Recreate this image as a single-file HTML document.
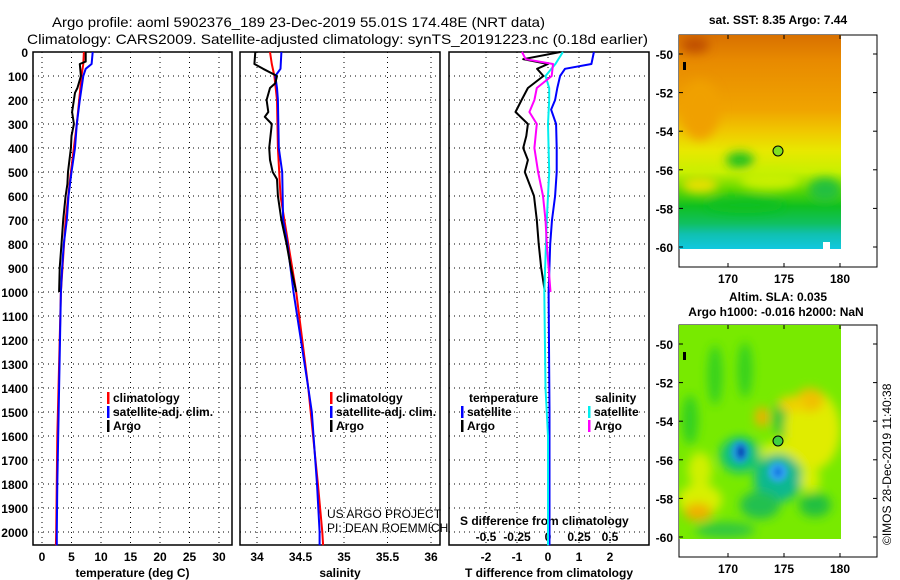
<!DOCTYPE html>
<html><head><meta charset="utf-8"><style>
html,body{margin:0;padding:0;background:#fff;}
svg{display:block;font-family:"Liberation Sans",sans-serif;}
.tk{font-size:12px;font-weight:bold;}
</style></head><body>
<svg id="chart" width="900" height="580" viewBox="0 0 900 580" xmlns="http://www.w3.org/2000/svg">
<defs>
<filter id="blur1" x="-20%" y="-20%" width="140%" height="140%"><feGaussianBlur stdDeviation="5"/></filter>
<filter id="blur2" x="-50%" y="-50%" width="200%" height="200%"><feGaussianBlur stdDeviation="3"/></filter>
<linearGradient id="sstg" x1="0" y1="0" x2="0" y2="1">
<stop offset="0" stop-color="#d87000"/><stop offset="0.12" stop-color="#e88a00"/>
<stop offset="0.35" stop-color="#f0a400"/><stop offset="0.45" stop-color="#f0c800"/>
<stop offset="0.54" stop-color="#e8e800"/><stop offset="0.64" stop-color="#c8f000"/>
<stop offset="0.72" stop-color="#60d800"/><stop offset="0.8" stop-color="#10c020"/>
<stop offset="0.88" stop-color="#10c060"/><stop offset="0.93" stop-color="#10c0b0"/>
<stop offset="1" stop-color="#10c8e0"/></linearGradient>
<clipPath id="c1"><rect x="679" y="35" width="162" height="214"/></clipPath>
<clipPath id="c2"><rect x="679" y="325" width="162" height="214"/></clipPath>
</defs>
<g id="titles">
<text x="52" y="27" font-size="14" textLength="493" lengthAdjust="spacingAndGlyphs">Argo profile: aoml 5902376_189 23-Dec-2019 55.01S 174.48E (NRT data)</text>
<text x="27" y="44" font-size="14" textLength="621" lengthAdjust="spacingAndGlyphs">Climatology: CARS2009. Satellite-adjusted climatology: synTS_20191223.nc (0.18d earlier)</text>
</g>
<g id="panels"></g>
<g id="maps">
<text x="778" y="24" class="tk" text-anchor="middle">sat. SST: 8.35 Argo: 7.44</text>
<rect x="679" y="35" width="198" height="232" fill="#fff" stroke="#000"/>
<g clip-path="url(#c1)">
<rect x="679" y="35" width="162" height="214" fill="url(#sstg)"/>
<g filter="url(#blur1)">
<ellipse cx="740" cy="160" rx="14" ry="8" fill="#20c020"/>
<ellipse cx="700" cy="185" rx="18" ry="8" fill="#e8e000"/>
<ellipse cx="770" cy="180" rx="30" ry="10" fill="#c8f000"/>
<ellipse cx="825" cy="190" rx="16" ry="12" fill="#20c040"/>
<ellipse cx="695" cy="45" rx="14" ry="8" fill="#c05000"/>
<ellipse cx="745" cy="205" rx="40" ry="8" fill="#10c020"/>
<ellipse cx="700" cy="110" rx="20" ry="30" fill="#f0a000"/>
</g>
<rect x="683" y="62" width="3" height="8" fill="#000"/>
<rect x="823" y="242" width="7" height="7" fill="#fff"/>
</g>
<circle cx="778" cy="151" r="5" fill="#80e020" stroke="#000"/>
<text x="778" y="301" class="tk" text-anchor="middle">Altim. SLA: 0.035</text>
<text x="776" y="316" class="tk" text-anchor="middle">Argo h1000: -0.016 h2000: NaN</text>
<rect x="679" y="325" width="198" height="232" fill="#fff" stroke="#000"/>
<g clip-path="url(#c2)">
<rect x="679" y="325" width="162" height="214" fill="#78ea00"/>
<g filter="url(#blur1)">
<ellipse cx="715" cy="375" rx="7" ry="30" fill="#30d020"/>
<ellipse cx="745" cy="370" rx="7" ry="28" fill="#30d020"/>
<ellipse cx="690" cy="420" rx="8" ry="25" fill="#30d020"/>
<ellipse cx="785" cy="418" rx="12" ry="20" fill="#20c040"/>
<ellipse cx="790" cy="452" rx="30" ry="12" fill="#d8f000"/>
<ellipse cx="812" cy="430" rx="28" ry="40" fill="#e0ec00"/>
<ellipse cx="810" cy="400" rx="14" ry="12" fill="#f0c000"/>
<ellipse cx="762" cy="417" rx="7" ry="10" fill="#f0b000"/>
<ellipse cx="792" cy="404" rx="14" ry="8" fill="#f0d000"/>
<ellipse cx="700" cy="470" rx="12" ry="18" fill="#d0f000"/>
<ellipse cx="700" cy="500" rx="22" ry="16" fill="#d8f000"/>
<ellipse cx="698" cy="512" rx="14" ry="9" fill="#f0b000"/>
<ellipse cx="740" cy="455" rx="20" ry="18" fill="#10c080"/>
<ellipse cx="778" cy="478" rx="24" ry="24" fill="#10b890"/>
<ellipse cx="760" cy="505" rx="20" ry="14" fill="#20c050"/>
<ellipse cx="815" cy="505" rx="16" ry="12" fill="#20c040"/>
<ellipse cx="725" cy="530" rx="30" ry="8" fill="#30c840"/>
<ellipse cx="810" cy="480" rx="10" ry="12" fill="#d8f000"/>
</g>
<g filter="url(#blur2)">
<ellipse cx="740" cy="452" rx="9" ry="11" fill="#20a0e0"/>
<ellipse cx="741" cy="452" rx="4" ry="7" fill="#0030b0"/>
<ellipse cx="778" cy="472" rx="10" ry="10" fill="#30a8f0"/>
<ellipse cx="778" cy="472" rx="4" ry="5" fill="#1070e0"/>
</g>
<rect x="683" y="352" width="3" height="8" fill="#000"/>
</g>
<circle cx="778" cy="441" r="5" fill="#40d040" stroke="#000"/>
<text transform="translate(891,545) rotate(-90)" font-size="12">©IMOS 28-Dec-2019 11:40:38</text>
</g>
</svg>
<script>
// ---- data ----
const depthTicks = [0,100,200,300,400,500,600,700,800,900,1000,1100,1200,1300,1400,1500,1600,1700,1800,1900,2000];
const tempTicks = [0,5,10,15,20,25,30];
const salTicks = [34,34.5,35,35.5,36];
const tdiffTicks = [-2,-1,0,1,2];
const sdiffTicks = [-0.5,-0.25,0,0.25,0.5];
const latTicks = [-50,-52,-54,-56,-58,-60];
const lonTicks = [170,175,180];

const argoDepth = [0,40,50,100,150,170,200,250,300,350,400,500,550,600,700,800,900,1000];
const argoTemp  = [7.4,7.4,6.4,6.6,6.0,5.6,5.4,5.1,5.4,5.0,4.9,4.4,4.3,4.0,3.6,3.3,3.0,2.9];
const climDepth = [0,50,100,200,300,500,700,1000,1400,1600,2000,2055];
const climTemp  = [7.1,7.0,6.7,6.3,5.9,4.9,4.0,3.2,2.8,2.6,2.4,2.35];
const satDepth  = [0,50,70,100,200,300,400,500,600,700,800,900,1000,1400,1800,2000,2055];
const satTemp   = [8.6,8.4,7.4,7.0,6.4,5.9,5.6,5.0,4.5,4.2,3.7,3.4,3.2,2.9,2.6,2.5,2.5];

const argoSalDepth = [0,50,70,100,130,150,200,250,270,300,400,450,500,530,600,700,800,900,1000];
const argoSal = [33.98,33.97,34.07,34.23,34.21,34.15,34.11,34.13,34.09,34.17,34.14,34.15,34.18,34.23,34.24,34.28,34.34,34.39,34.45];
const climSalDepth = [0,50,100,200,400,600,800,1000,1400,1800,2000,2055];
const climSal = [34.15,34.17,34.20,34.23,34.24,34.27,34.36,34.45,34.59,34.70,34.75,34.76];
const satSalDepth = [0,70,100,150,200,400,500,700,800,1000,1400,1500,1800,2000,2055];
const satSal = [34.28,34.27,34.21,34.23,34.24,34.25,34.29,34.30,34.35,34.42,34.59,34.63,34.69,34.72,34.72];

const tSatDiffDepth = [0,50,70,100,150,200,240,300,400,500,600,700,800,1000,1500,2000,2055];
const tSatDiff = [1.48,1.4,0.55,0.39,0.3,0.23,0.1,0.26,0.28,0.28,0.23,0.13,0.07,0.02,0.05,0.05,0.05];
const tArgoDiffDepth = [0,30,50,70,100,150,200,250,300,350,400,450,500,550,600,700,800,900,1000];
const tArgoDiff = [0.4,-0.8,0.0,-0.35,-0.15,-0.65,-0.85,-1.05,-0.65,-0.7,-0.8,-0.65,-0.75,-0.6,-0.45,-0.36,-0.3,-0.22,-0.1];
const sSatDiffDepth = [0,50,100,150,200,300,500,700,1000,1400,1600,2000,2055];
const sSatDiff = [0.12,0.06,-0.02,0.01,0.01,0.0,0.01,-0.01,-0.03,-0.02,0.0,0.0,0.0];
const sArgoDiffDepth = [0,30,50,100,150,200,250,300,400,500,600,700,800,1000];
const sArgoDiff = [-0.21,-0.18,0.04,0.03,-0.09,-0.11,-0.15,-0.09,-0.11,-0.08,-0.04,-0.02,-0.01,0.02];

// ---- layout / scales ----
const NS = 'http://www.w3.org/2000/svg';
const TOP = 52, BOT = 545;
const yD = d => TOP + d * 0.24;
const xT = t => 42 + t * 5.9;
const xS = s => 257 + (s - 34) * 87;
const xTd = t => 548 + t * 31;
const xSd = s => 548 + s * 124;
const yLat = l => 54 + (-50 - l) * 19.3;
const xLon = l => 728 + (l - 170) * 11.2;

const root = document.getElementById('panels');
function mk(tag, attrs, parent) {
  const e = document.createElementNS(NS, tag);
  for (const k in attrs) e.setAttribute(k, attrs[k]);
  (parent || root).appendChild(e);
  return e;
}
function txt(x, y, s, cls, anchor, parent) {
  const e = mk('text', {x: x, y: y, 'text-anchor': anchor || 'middle'}, parent);
  if (cls) e.setAttribute('class', cls);
  e.textContent = s;
  return e;
}
function line(xs, ds, sx, color, name, w) {
  const pts = xs.map((v, i) => sx(v).toFixed(1) + ',' + yD(ds[i]).toFixed(1)).join(' ');
  const p = mk('polyline', {points: pts, fill: 'none', stroke: color, 'stroke-width': w || 2, 'stroke-linejoin': 'round'});
  
  
}

const panels = [
  {x0: 33, x1: 232, ticks: tempTicks, sx: xT, title: 'temperature (deg C)', name: 'temperature-panel'},
  {x0: 240, x1: 440, ticks: salTicks, sx: xS, title: 'salinity', name: 'salinity-panel'},
  {x0: 449, x1: 649, ticks: tdiffTicks, sx: xTd, title: 'T difference from climatology', name: 'difference-panel'}
];
panels.forEach((p, pi) => {
  const g = mk('g', {});
  
  
  mk('rect', {x: p.x0, y: TOP, width: p.x1 - p.x0, height: BOT - TOP, fill: 'none', stroke: '#000', 'stroke-width': 1.5}, g);
  depthTicks.forEach(d => {
    const l = mk('line', {x1: p.x0, x2: p.x1, y1: yD(d), y2: yD(d), stroke: '#000', 'stroke-dasharray': '1,4'}, g);
    
    
  });
  p.ticks.forEach(t => {
    const x = p.sx(t);
    const l = mk('line', {x1: x, x2: x, y1: TOP, y2: BOT, stroke: '#000', 'stroke-dasharray': '1,4'}, g);
    
    
    const tl = txt(x, 561, String(t), 'tk', 'middle', g);
    
    
  });
  const at = txt((p.x0 + p.x1) / 2, 577, p.title, 'tk', 'middle', g);
  
  
});
depthTicks.forEach(d => {
  const t = txt(28, yD(d) + 5, String(d), 'tk', 'end');
  
  
});
sdiffTicks.forEach(s => {
  const t = txt(xSd(s), 541, String(s), 'tk', 'middle');
  
  
});
const sdt = txt(460, 525, 'S difference from climatology', 'tk', 'start');



// profiles
line(climTemp, climDepth, xT, '#f00', 'temp-climatology-line');
line(satTemp, satDepth, xT, '#00f', 'temp-satellite-line');
line(argoTemp, argoDepth, xT, '#000', 'temp-argo-line');
line(climSal, climSalDepth, xS, '#f00', 'sal-climatology-line');
line(satSal, satSalDepth, xS, '#00f', 'sal-satellite-line');
line(argoSal, argoSalDepth, xS, '#000', 'sal-argo-line');
line(tSatDiff, tSatDiffDepth, xTd, '#00f', 't-diff-satellite-line');
line(tArgoDiff, tArgoDiffDepth, xTd, '#000', 't-diff-argo-line');
line(sSatDiff, sSatDiffDepth, xSd, '#0ee', 's-diff-satellite-line');
line(sArgoDiff, sArgoDiffDepth, xSd, '#f0f', 's-diff-argo-line');

// legends
function legendItem(x, y, color, label, name) {
  const g = mk('g', {});
  
  
  mk('rect', {x: x, y: y - 10, width: 2.5, height: 12, fill: color}, g);
  txt(x + 6, y, label, 'tk', 'start', g);
}
[[107, 33], [330, 256]].forEach(([lx], i) => {
  const pfx = i ? 'sal' : 'temp';
  legendItem(lx, 402, '#f00', 'climatology', pfx + '-legend-climatology');
  legendItem(lx, 416, '#00f', 'satellite-adj. clim.', pfx + '-legend-satellite');
  legendItem(lx, 430, '#000', 'Argo', pfx + '-legend-argo');
});
const lt = txt(469, 402, 'temperature', 'tk', 'start');


const ls = txt(595, 402, 'salinity', 'tk', 'start');


legendItem(461, 416, '#00f', 'satellite', 'legend-t-satellite');
legendItem(461, 430, '#000', 'Argo', 'legend-t-argo');
legendItem(588, 416, '#0ee', 'satellite', 'legend-s-satellite');
legendItem(588, 430, '#f0f', 'Argo', 'legend-s-argo');
const u1 = mk('text', {x: 327, y: 518, 'font-size': 12});
u1.textContent = 'US ARGO PROJECT';


const u2 = mk('text', {x: 327, y: 532, 'font-size': 12});
u2.textContent = 'PI: DEAN ROEMMICH';



// map axes
const maps = document.getElementById('maps');
[[35, 267], [325, 557]].forEach(([top, bot], mi) => {
  const off = top - 35;
  latTicks.forEach(l => {
    const y = yLat(l) + off;
    mk('line', {x1: 679, x2: 683, y1: y, y2: y, stroke: '#000'}, maps);
    mk('line', {x1: 873, x2: 877, y1: y, y2: y, stroke: '#000'}, maps);
    const t = txt(673, y + 5, String(l), 'tk', 'end', maps);
    
    
  });
  lonTicks.forEach(l => {
    const x = xLon(l);
    mk('line', {x1: x, x2: x, y1: top, y2: top + 4, stroke: '#000'}, maps);
    mk('line', {x1: x, x2: x, y1: bot - 4, y2: bot, stroke: '#000'}, maps);
    const t = txt(x, bot + 16, String(l), 'tk', 'middle', maps);
    
    
  });
});
</script>
</body></html>
